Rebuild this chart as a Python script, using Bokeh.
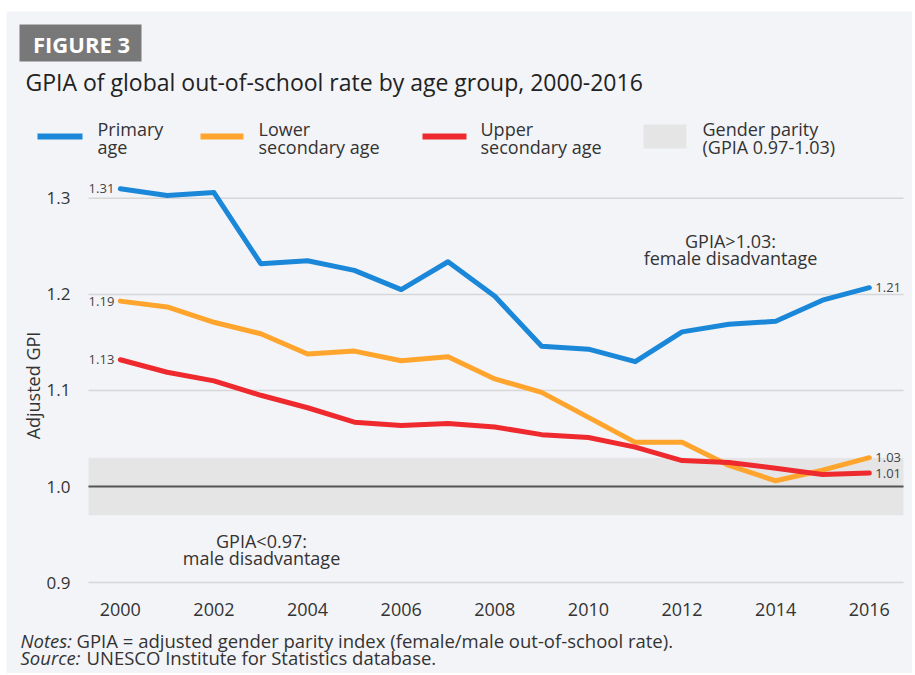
import math
from bokeh.plotting import figure
from bokeh.models import Range1d, FixedTicker, PrintfTickFormatter, Label, BoxAnnotation
from bokeh.embed import file_html
from bokeh.resources import INLINE

# ---------------- data ----------------
years = list(range(2000, 2017))
primary = [1.310, 1.303, 1.306, 1.232, 1.235, 1.225, 1.205, 1.234, 1.198,
           1.146, 1.143, 1.130, 1.161, 1.169, 1.172, 1.194, 1.207]
lower_secondary = [1.193, 1.187, 1.171, 1.159, 1.138, 1.141, 1.131, 1.135, 1.112,
                   1.098, 1.072, 1.046, 1.046, 1.022, 1.006, 1.017, 1.030]
upper_secondary = [1.132, 1.119, 1.110, 1.095, 1.082, 1.067, 1.0635, 1.0655, 1.062,
                   1.054, 1.051, 1.041, 1.027, 1.025, 1.019, 1.0125, 1.014]
series_names = [["Primary", "age"], ["Lower", "secondary age"], ["Upper", "secondary age"]]
parity_low, parity_high = 0.97, 1.03
parity_label = ["Gender parity", "(GPIA 0.97-1.03)"]
x_ticks = [2000, 2002, 2004, 2006, 2008, 2010, 2012, 2014, 2016]
y_ticks = [0.9, 1.0, 1.1, 1.2, 1.3]

# ---------------- style / geometry ----------------
FONT = "Open Sans"
BG = "#f3f4f8"
TXT = "#333333"
COLORS = ["#1a87d9", "#ffa52d", "#ee2a2e"]

OX, OY = 6, 11                     # page offset of the panel
W, H = 906, 662
PX_L, PX_R, PY_T, PY_B = 88, 903, 170, 584     # plotting area on the page
XA, XB = 1999.32, 2016.73                      # data at plotting area left/right
YA, YB = 1.329, 0.898                          # data at plotting area top/bottom
sx = (XB - XA) / (PX_R - PX_L)
sy = (YA - YB) / (PY_B - PY_T)


def dx(px):
    return XA + (px - PX_L) * sx


def dy(py):
    return YA - (py - PY_T) * sy


p = figure(width=W, height=H, output_backend="svg", toolbar_location=None,
           x_range=Range1d(dx(OX), dx(OX + W)), y_range=Range1d(dy(OY + H), dy(OY)),
           min_border=0, background_fill_color=BG, border_fill_color=BG)
p.margin = (OY, 0, 0, OX)
p.outline_line_color = None
p.xgrid.grid_line_color = None
p.ygrid.grid_line_color = None


def lab(text, px, py, size, color=TXT, align="left", style="normal", angle=0):
    p.add_layout(Label(x=dx(px), y=dy(py), text=text, text_font=FONT,
                       text_font_size=f"{size}px", text_color=color,
                       text_align=align, text_baseline="middle",
                       text_font_style=style, angle=angle))


# parity band, horizontal grid lines and the 1.0 line
p.add_layout(BoxAnnotation(left=dx(PX_L), right=dx(PX_R), bottom=parity_low, top=parity_high,
                           fill_color="#e5e5e5", fill_alpha=1, line_color=None, level="underlay"))
grid_vals = [t for t in y_ticks if t != 1.0]
p.segment(x0=dx(PX_L), x1=dx(PX_R), y0=grid_vals, y1=grid_vals,
          line_color="#d6d6d6", line_width=1.5)
p.segment(x0=dx(PX_L), x1=dx(PX_R), y0=[1.0], y1=[1.0], line_color="#555555", line_width=2)

# axes at fixed locations around the plotting area
for ax in (p.xaxis[0], p.yaxis[0]):
    ax.axis_line_color = None
    ax.major_tick_line_color = None
    ax.minor_tick_line_color = None
    ax.major_label_text_font = FONT
    ax.major_label_text_color = TXT
    ax.major_label_standoff = 12
p.xaxis.fixed_location = YB
p.xaxis.ticker = FixedTicker(ticks=x_ticks)
p.xaxis.major_label_text_font_size = "18px"
p.yaxis.fixed_location = XA
p.yaxis.ticker = FixedTicker(ticks=y_ticks)
p.yaxis.formatter = PrintfTickFormatter(format="%.1f")
p.yaxis.major_label_text_font_size = "17px"
lab("Adjusted GPI", 32, 385, 18, angle=math.pi / 2, align="center")

# lines + end labels
for vals, col in zip([primary, lower_secondary, upper_secondary], COLORS):
    p.line(years, vals, line_color=col, line_width=5, line_cap="round", line_join="round")
    p.add_layout(Label(x=years[0], y=vals[0], x_offset=-6, text=f"{vals[0]:.2f}",
                       text_font=FONT, text_font_size="13px", text_color="#444444",
                       text_align="right", text_baseline="middle"))
    p.add_layout(Label(x=years[-1], y=vals[-1], x_offset=6, text=f"{vals[-1]:.2f}",
                       text_font=FONT, text_font_size="13px", text_color="#444444",
                       text_align="left", text_baseline="middle"))

# header
p.add_layout(BoxAnnotation(left=dx(19), right=dx(141), top=dy(24), bottom=dy(61),
                           fill_color="#787878", fill_alpha=1, line_color=None))
p.add_layout(Label(x=dx(81), y=dy(43), text="FIGURE 3", text_font=FONT,
                   text_font_size="22px", text_font_style="bold", text_color="white",
                   text_align="center", text_baseline="middle"))
lab("GPIA of global out-of-school rate by age group, 2000-2016", 25, 81, 23, color="#222222")

# legend
seg_x = [(37, 82), (200, 243), (422, 466)]
txt_x = [97, 258, 480]
for (a, b), tx, col, name in zip(seg_x, txt_x, COLORS, series_names):
    p.add_layout(BoxAnnotation(left=dx(a), right=dx(b), top=dy(133), bottom=dy(139),
                               fill_color=col, fill_alpha=1, line_color=None))
    lab(name[0], tx, 128, 18)
    lab(name[1], tx, 146, 18)
p.add_layout(BoxAnnotation(left=dx(643), right=dx(686), top=dy(124), bottom=dy(148),
                           fill_color="#e5e5e5", fill_alpha=1, line_color=None))
lab(parity_label[0], 702, 128, 18)
lab(parity_label[1], 702, 146, 18)

# region annotations
lab("GPIA>1.03:", 730, 240, 18, align="center")
lab("female disadvantage", 730, 257, 18, align="center")
lab("GPIA<0.97:", 261, 540, 18, align="center")
lab("male disadvantage", 261, 557, 18, align="center")

# notes
lab("Notes:", 20, 640, 18.5, style="italic")
lab("GPIA = adjusted gender parity index (female/male out-of-school rate).", 76, 640, 18.5)
lab("Source:", 20, 657, 18.5, style="italic")
lab("UNESCO Institute for Statistics database.", 86, 657, 18.5)

open("out.html", "w").write(file_html(p, INLINE))
